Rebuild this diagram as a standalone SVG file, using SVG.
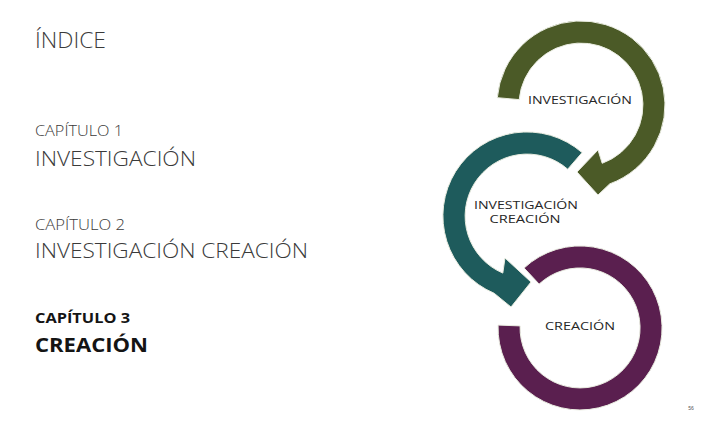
<svg xmlns="http://www.w3.org/2000/svg" width="709" height="425" viewBox="0 0 709 425">
<style>
.light{font-family:"Open Sans","Liberation Sans",sans-serif;font-weight:300;fill:#3a3a3a}
.bold{font-family:"Open Sans","Liberation Sans",sans-serif;font-weight:700;fill:#141414}
.lbl{font-family:"Open Sans","Liberation Sans",sans-serif;font-size:11px;fill:#262626;text-anchor:middle}
.arr{stroke:#e9ece0;stroke-width:1}
</style>
<rect width="709" height="425" fill="#ffffff"/>
<g id="index">
<text class="light" x="35" y="48" font-size="22" textLength="71" lengthAdjust="spacingAndGlyphs">ÍNDICE</text>
<text class="light" x="35" y="136" font-size="14" textLength="88" lengthAdjust="spacingAndGlyphs">CAPÍTULO 1</text>
<text class="light" x="35" y="166" font-size="20" textLength="161" lengthAdjust="spacingAndGlyphs">INVESTIGACIÓN</text>
<text class="light" x="35" y="230" font-size="14" textLength="90" lengthAdjust="spacingAndGlyphs">CAPÍTULO 2</text>
<text class="light" x="35" y="258" font-size="20" textLength="273" lengthAdjust="spacingAndGlyphs">INVESTIGACIÓN CREACIÓN</text>
<text class="bold" x="35" y="323" font-size="14" textLength="95" lengthAdjust="spacingAndGlyphs">CAPÍTULO 3</text>
<text class="bold" x="35" y="352" font-size="20" textLength="113" lengthAdjust="spacingAndGlyphs">CREACIÓN</text>
</g>
<g id="connectors">
<path id="arrow-purple" class="arr" fill="#5a1f4f" d="M524.1,268 A82,82 0 1 1 498.1,325.1 L520.1,325.9 A60,60 0 1 0 539.1,284.1 Z"/>
<path id="arrow-teal" class="arr" fill="#1e5b5c" d="M582.1,152.6 A84,84 0 1 0 494.2,293.3 L511,307 L531,282 L505,258 L502.8,273.1 A62,62 0 1 1 567.7,169.2 Z"/>
<path id="arrow-olive" class="arr" fill="#4b5a27" d="M497.3,97.7 A84,84 0 1 1 609.7,183.9 L598,195 L577,172 L598,150 L602.2,163.3 A62,62 0 1 0 519.2,99.6 Z"/>
</g>
<g id="node-investigacion">
<text class="lbl" x="580" y="104" textLength="104" lengthAdjust="spacingAndGlyphs">INVESTIGACIÓN</text>
</g>
<g id="node-investigacion-creacion">
<text class="lbl" x="526" y="209" textLength="104" lengthAdjust="spacingAndGlyphs">INVESTIGACIÓN</text>
<text class="lbl" x="525" y="223" textLength="71" lengthAdjust="spacingAndGlyphs">CREACIÓN</text>
</g>
<g id="node-creacion">
<text class="lbl" x="580" y="330" textLength="70" lengthAdjust="spacingAndGlyphs">CREACIÓN</text>
</g>
<text x="691" y="410" font-family="Liberation Sans,sans-serif" font-size="5" fill="#555" text-anchor="middle">56</text>
</svg>
